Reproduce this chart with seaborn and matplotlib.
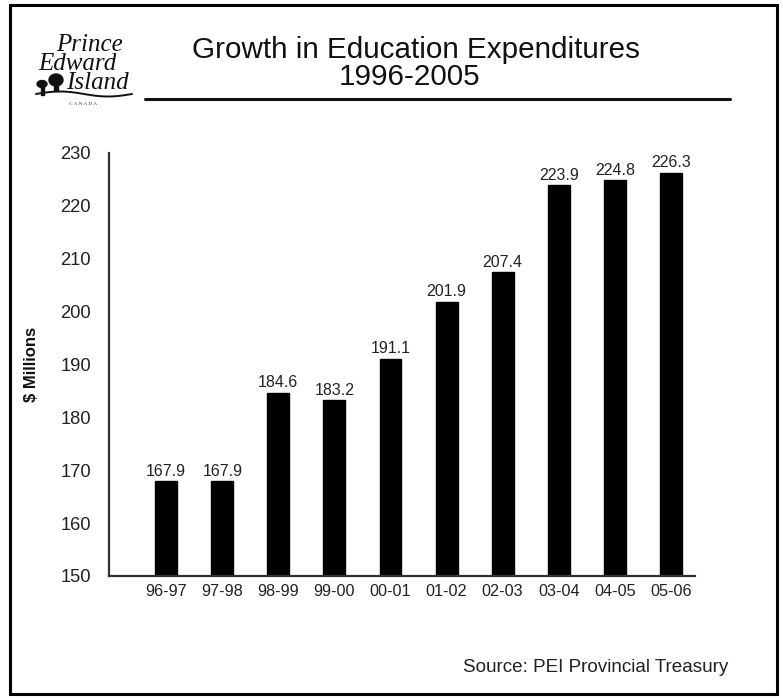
import matplotlib
matplotlib.use("Agg")
import matplotlib.pyplot as plt
from matplotlib.patches import Rectangle, Ellipse
import numpy as np
import pandas as pd
import seaborn as sns

# Fiscal years and education spending ($ millions)
years = ["96-97", "97-98", "98-99", "99-00", "00-01",
         "01-02", "02-03", "03-04", "04-05", "05-06"]
spending = [167.9, 167.9, 184.6, 183.2, 191.1,
            201.9, 207.4, 223.9, 224.8, 226.3]
y_ticks = [150, 160, 170, 180, 190, 200, 210, 220, 230]

df = pd.DataFrame({"year": years, "spending": spending})

sns.set_theme(style="white")
plt.rcParams["font.family"] = ["Liberation Sans", "DejaVu Sans"]

W, H = 783, 698
fig = plt.figure(figsize=(W / 100, H / 100), dpi=100)
fig.patch.set_facecolor("white")

def fx(px):
    return np.asarray(px) / W

def fy(py):
    return 1 - np.asarray(py) / H

ax = fig.add_axes([fx(109), fy(576), fx(695) - fx(109), fy(153) - fy(576)])
sns.barplot(data=df, x="year", y="spending", color="black", width=0.39,
            saturation=1, ax=ax, order=years)
for p in ax.patches:
    p.set_edgecolor("black")

ax.set_ylim(150, 230)
ax.set_xlim(-1.02, 9.43)
ax.set_yticks(y_ticks)
ax.set_yticklabels([str(t) for t in y_ticks], fontsize=13.2, color="#222222")
ax.tick_params(axis="x", labelsize=11.7, colors="#222222", length=0, pad=6)
ax.tick_params(axis="y", length=0, pad=13)
ax.set_xlabel("")
ax.set_ylabel("$ Millions", fontsize=12, fontweight="bold", color="#111111",
              labelpad=15)
for side in ["top", "right"]:
    ax.spines[side].set_visible(False)
for side in ["left", "bottom"]:
    ax.spines[side].set_color("#333333")
    ax.spines[side].set_linewidth(1.6)

for i, v in enumerate(spending):
    ax.text(i, v + 0.5, f"{v:.1f}", ha="center", va="bottom",
            fontsize=11.5, color="#222222")

# Title block
fig.text(fx(416), fy(50), "Growth in Education Expenditures", ha="center",
         va="center", fontsize=21.3, color="#111111")
fig.text(fx(410), fy(77), "1996-2005", ha="center", va="center",
         fontsize=21.3, color="#111111")
fig.add_artist(plt.Line2D([fx(145), fx(730)], [fy(99), fy(99)],
                          color="#111111", lw=2.2))

# Source note
fig.text(fx(728), fy(667), "Source: PEI Provincial Treasury", ha="right",
         va="center", fontsize=13.6, color="#222222")

# Provincial wordmark
serif = ["Liberation Serif", "DejaVu Serif"]
fig.text(fx(129), fy(64), "Prince \nEdward  \nIsland", ha="right",
         va="center", multialignment="right", fontsize=18, linespacing=0.82,
         style="italic", family=serif, color="#111111")
fig.text(fx(83), fy(104), "C A N A D A", ha="center", va="center",
         fontsize=3.8, family=serif, color="#333333")
# trees
for cx, cy, rw, rh in [(42, 84, 10, 7), (56, 80, 14, 12)]:
    fig.add_artist(Ellipse((fx(cx), fy(cy)), fx(rw), rh / H,
                           color="#111111"))
    fig.add_artist(Rectangle((fx(cx - 1.5), fy(cy + 11)), fx(3), 9 / H,
                             color="#111111"))
xs = np.linspace(36, 132, 60)
ys = 94 - 2.5 * np.sin((xs - 36) / 96 * 2 * np.pi)
fig.add_artist(plt.Line2D(fx(xs), fy(ys), color="#111111", lw=1.4))

# Outer frame
fig.add_artist(Rectangle((fx(10), fy(694)), fx(767), (694 - 5) / H,
                         fill=False, edgecolor="black", lw=2.2))

fig.savefig("out.png", dpi=100)
